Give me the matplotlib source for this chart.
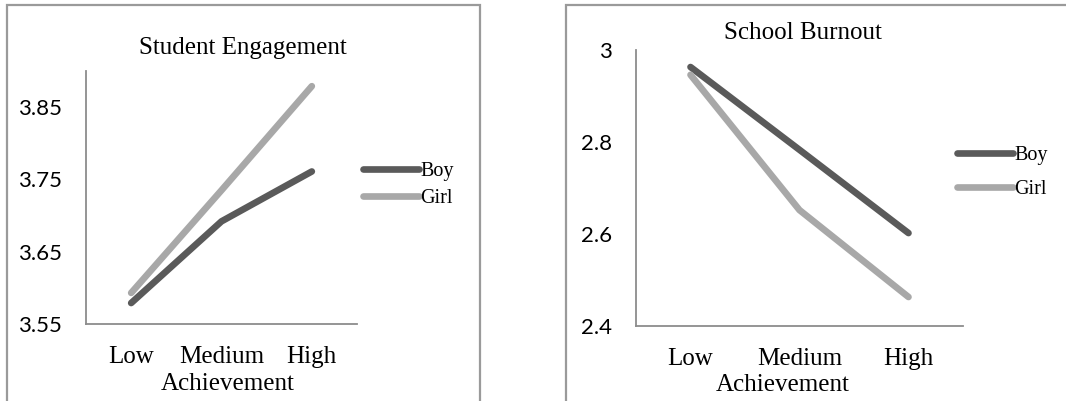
import matplotlib
matplotlib.use("Agg")
import matplotlib.pyplot as plt
from matplotlib.patches import Rectangle

# data
levels = ["Low", "Medium", "High"]
engage_boy = [3.579, 3.692, 3.761]
engage_girl = [3.593, 3.735, 3.879]
burnout_boy = [2.963, 2.783, 2.602]
burnout_girl = [2.946, 2.652, 2.463]
engage_ticks = [3.55, 3.65, 3.75, 3.85]
burnout_ticks = [2.4, 2.6, 2.8, 3.0]
burnout_ticklabels = ["2.4", "2.6", "2.8", "3"]

W, H = 1066, 401
BOY_C = "#5a5a5a"
GIRL_C = "#a8a8a8"
AXIS_C = "#8c8c8c"
SERIF = "Liberation Serif"
SANS = "Lato"

fig = plt.figure(figsize=(W / 100, H / 100), dpi=100)


def px_axes(x0, y0, x1, y1):
    # pixel box (top-left origin) -> figure fraction axes
    return fig.add_axes([x0 / W, (H - y1) / H, (x1 - x0) / W, (y1 - y0) / H])


def panel_frame(x0, y0, x1, y1):
    fig.patches.append(Rectangle((x0 / W, (H - y1) / H), (x1 - x0) / W, (y1 - y0) / H,
                                 transform=fig.transFigure, fill=False,
                                 edgecolor="#9a9a9a", linewidth=1.6))


def draw_panel(ax, boy, girl, ylim, ticks, ticklabels, title, title_xy, xlabel_xy,
               legend_xy, legend_spacing):
    x = range(len(levels))
    ax.plot(x, boy, color=BOY_C, lw=4.8, solid_capstyle="round", solid_joinstyle="round", label="Boy")
    ax.plot(x, girl, color=GIRL_C, lw=4.8, solid_capstyle="round", solid_joinstyle="round", label="Girl")
    ax.set_xlim(-0.5, len(levels) - 0.5)
    ax.set_ylim(*ylim)
    ax.set_yticks(ticks)
    ax.set_yticklabels(ticklabels, fontfamily=SANS, fontsize=16)
    ax.set_xticks(list(x))
    ax.set_xticklabels(levels, fontfamily=SERIF, fontsize=18)
    ax.tick_params(length=0, axis="y", pad=17)
    ax.tick_params(length=0, axis="x", pad=16)
    for s in ["top", "right"]:
        ax.spines[s].set_visible(False)
    for s in ["left", "bottom"]:
        ax.spines[s].set_color(AXIS_C)
        ax.spines[s].set_linewidth(1.3)
    ax.set_xlabel("Achievement", fontfamily=SERIF, fontsize=18)
    ax.xaxis.set_label_coords(*xlabel_xy)
    ax.set_title(title, fontfamily=SERIF, fontsize=18, x=title_xy[0], y=title_xy[1],
                 va="center", pad=0)
    ax.legend(loc="upper left", bbox_to_anchor=legend_xy, bbox_transform=fig.transFigure,
              frameon=False, borderpad=0, borderaxespad=0, handlelength=2.8,
              handletextpad=0.05, labelspacing=legend_spacing,
              prop={"family": SERIF, "size": 14.5})


panel_frame(7, 5, 480, 403)
panel_frame(566, 5, 1075, 403)

ax1 = px_axes(86, 71, 357, 324)
draw_panel(ax1, engage_boy, engage_girl, (3.55, 3.90), engage_ticks,
           ["%.2f" % t for t in engage_ticks], "Student Engagement",
           (0.58, 1 + 23 / 253), (0.524, -49 / 253), (363 / W, 1 - 162 / H), 0.4)

ax2 = px_axes(636, 50, 963, 326)
draw_panel(ax2, burnout_boy, burnout_girl, (2.4, 3.0), burnout_ticks,
           burnout_ticklabels, "School Burnout",
           (0.51, 1 + 17 / 276), (0.45, -48 / 276), (957 / W, 1 - 146 / H), 0.75)

fig.savefig("out.png", dpi=100)
